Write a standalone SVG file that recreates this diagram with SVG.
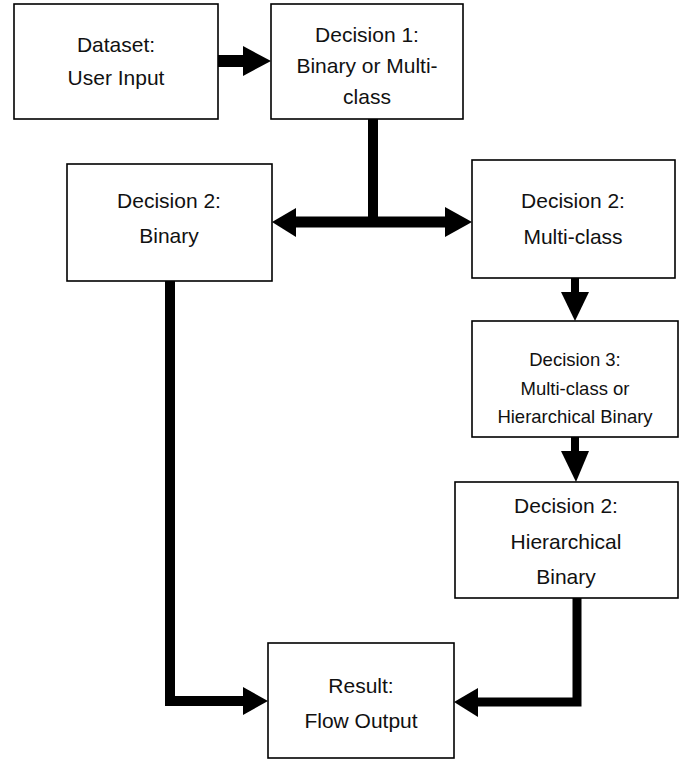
<svg xmlns="http://www.w3.org/2000/svg" width="696" height="763" viewBox="0 0 696 763">
<style>
.box{fill:#fff;stroke:#000;stroke-width:1.6}
.t{font-family:"Liberation Sans",Arial,sans-serif;font-size:21px;fill:#111;text-anchor:middle}
.s{font-size:18.5px}
.ln{fill:none;stroke:#000;stroke-linejoin:miter}
.hd{fill:#000}
</style>
<rect width="696" height="763" fill="#fff"/>
<g id="connectors">
<path class="ln" stroke-width="12" d="M218 61H245"/>
<polygon class="hd" points="243,46 271,61 243,76"/>
<path class="ln" stroke-width="10" d="M373 119V222"/>
<path class="ln" stroke-width="11" d="M294 222H447"/>
<polygon class="hd" points="272,222 296,208 296,237"/>
<polygon class="hd" points="472,222 445,207 445,237"/>
<path class="ln" stroke-width="10" d="M170 281V701H245"/>
<polygon class="hd" points="268,701 243,687 243,715"/>
<path class="ln" stroke-width="9" d="M577 598V702H476"/>
<polygon class="hd" points="454,702 478,688 478,717"/>
<path class="ln" stroke-width="8" d="M575 278V294"/>
<polygon class="hd" points="561,292 589,292 575,321"/>
<path class="ln" stroke-width="8" d="M575 437V453"/>
<polygon class="hd" points="561,451 589,451 576,482"/>
</g>
<g id="dataset">
<rect class="box" x="14" y="4" width="204" height="115"/>
<text class="t" x="116" y="52">Dataset:</text>
<text class="t" x="116" y="85">User Input</text>
</g>
<g id="decision1">
<rect class="box" x="271" y="4" width="192" height="115"/>
<text class="t" x="367" y="42">Decision 1:</text>
<text class="t" x="367" y="73">Binary or Multi-</text>
<text class="t" x="367" y="104">class</text>
</g>
<g id="decision2-binary">
<rect class="box" x="67" y="164" width="205" height="117"/>
<text class="t" x="169" y="208">Decision 2:</text>
<text class="t" x="169" y="243">Binary</text>
</g>
<g id="decision2-multiclass">
<rect class="box" x="472" y="160" width="203" height="118"/>
<text class="t" x="573" y="208">Decision 2:</text>
<text class="t" x="573" y="244">Multi-class</text>
</g>
<g id="decision3">
<rect class="box" x="472" y="321" width="206" height="116"/>
<text class="t s" x="575" y="366">Decision 3:</text>
<text class="t s" x="575" y="395">Multi-class or</text>
<text class="t s" x="575" y="423">Hierarchical Binary</text>
</g>
<g id="decision2-hierarchical">
<rect class="box" x="455" y="482" width="223" height="116"/>
<text class="t" x="566" y="513">Decision 2:</text>
<text class="t" x="566" y="549">Hierarchical</text>
<text class="t" x="566" y="584">Binary</text>
</g>
<g id="result">
<rect class="box" x="268" y="643" width="186" height="115"/>
<text class="t" x="361" y="693">Result:</text>
<text class="t" x="361" y="728">Flow Output</text>
</g>
</svg>
